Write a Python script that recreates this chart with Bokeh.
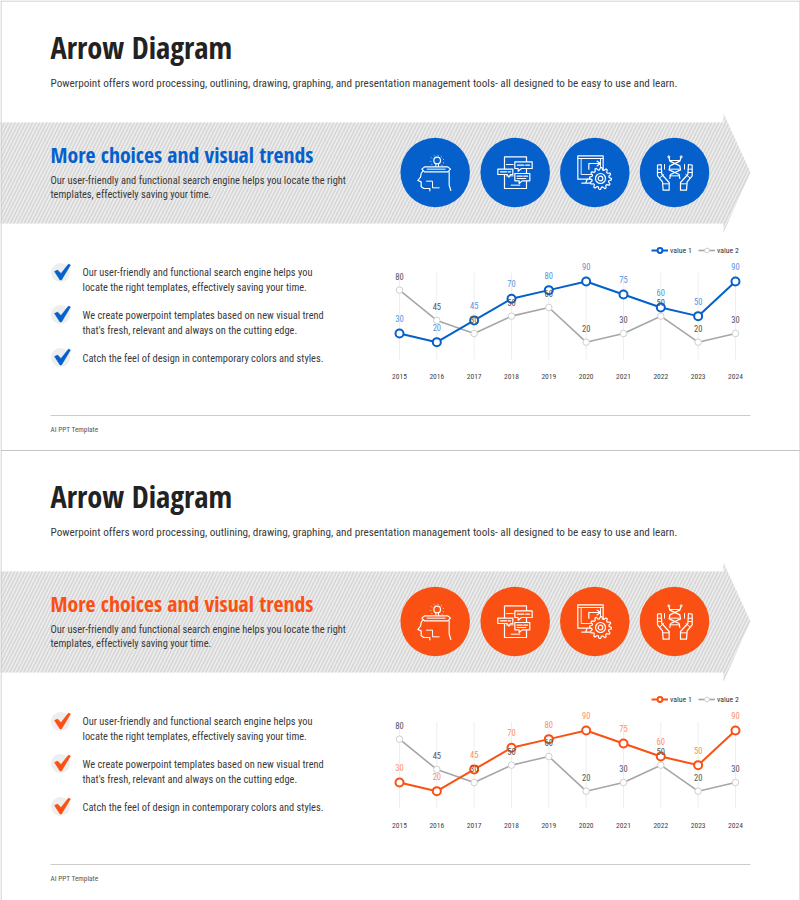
import numpy as np
from bokeh.core.properties import value
from bokeh.embed import file_html
from bokeh.resources import INLINE
from bokeh.plotting import figure
from bokeh.models import Range1d, LinearAxis, FixedTicker, Legend, LegendItem

# ---- data ----
years = [2015, 2016, 2017, 2018, 2019, 2020, 2021, 2022, 2023, 2024]
value_1 = [30, 20, 45, 70, 80, 90, 75, 60, 50, 90]
value_2 = [80, 45, 30, 50, 60, 20, 30, 50, 20, 30]
series_names = ["value 1", "value 2"]

title_text = "Arrow Diagram"
subtitle_text = "Powerpoint offers word processing, outlining, drawing, graphing, and presentation management tools- all designed to be easy to use and learn."
head_text = "More choices and visual trends"
band_lines = ["Our user-friendly and functional search engine helps you locate the right",
              "templates, effectively saving your time."]
bullet_lines = ["Our user-friendly and functional search engine helps you",
                "locate the right templates, effectively saving your time.",
                "We create powerpoint templates based on new visual trend",
                "that's fresh, relevant and always on the cutting edge.",
                "Catch the feel of design in contemporary colors and styles."]
footer_text = "AI PPT Template"

# ---- page geometry (reference pixels) ----
W, H = 800, 900
FONT = "Roboto Condensed"
HEAD_FONT = "Open Sans Condensed"
X_2015, PX_YEAR = 399.0, 37.33
Y_ZERO, PX_UNIT = 359.0, 0.867
PANEL_DY = 449

p = figure(width=W, height=H, output_backend="svg", toolbar_location=None,
           x_range=Range1d(0, W), y_range=Range1d(H, 0), min_border=0,
           x_axis_type=None, y_axis_type=None, outline_line_color=None)
p.grid.visible = False
p.extra_x_ranges["years"] = Range1d(2015 - X_2015 / PX_YEAR, 2015 + (W - X_2015) / PX_YEAR)


def T(x, y, text, size, color, style="normal", font=FONT):
    p.text([x], [y], text=[text], text_font=value(font), text_font_size=f"{size}px", text_color=color,
           text_font_style=style, text_align="left", text_baseline="middle")


def stroke(points, ox, oy, w=1.0):
    """Icon stroke, points in 1/3-pixel units from the icon box corner."""
    a = np.array(points, float)
    p.line(a[:, 0] / 3 + ox, a[:, 1] / 3 + oy, line_color="white", line_width=w, line_join="round", line_cap="round")


def shape(points, ox, oy, fill, w=1.0):
    a = np.array(points, float)
    p.patch(a[:, 0] / 3 + ox, a[:, 1] / 3 + oy, fill_color=fill, line_color="white", line_width=w, line_join="round")


def ring(cx, cy, r, ox, oy, fill=None, w=1.0):
    p.scatter([cx / 3 + ox], [cy / 3 + oy], marker="circle", size=2 * r / 3, fill_color=fill,
              fill_alpha=1 if fill else 0, line_color="white", line_width=w)


def box(x0, y0, x1, y1):
    return [(x0, y0), (x1, y0), (x1, y1), (x0, y1), (x0, y0)]


def icon_head(ox, oy, c):
    ring(110, 66, 10, ox, oy, w=1.2)
    stroke([(106, 76), (106, 84)], ox, oy); stroke([(114, 76), (114, 84)], ox, oy)
    for d in [(93, 58), (90, 68), (94, 78), (102, 52), (112, 50), (122, 54), (128, 62), (128, 72), (124, 80)]:
        stroke([d, (d[0] + .5, d[1] + .5)], ox, oy, 1.0)
    stroke([(72, 90), (62, 105), (60, 116), (52, 126), (62, 130), (62, 145), (70, 150), (88, 150), (88, 157)], ox, oy, 1.2)
    stroke([(146, 100), (146, 140), (151, 156)], ox, oy, 1.2)
    shape([(72, 85), (142, 85), (150, 92), (142, 100), (72, 100), (64, 92)], ox, oy, c, 1.2)
    stroke([(80, 92), (134, 92)], ox, oy, 1.0)
    stroke([(78, 128), (96, 128), (96, 148), (116, 148)], ox, oy, 1.0)


def icon_phone(ox, oy, c):
    stroke(box(72, 55, 138, 150), ox, oy, 1.2)
    stroke([(78, 78), (98, 78)], ox, oy); stroke([(78, 112), (98, 112)], ox, oy); stroke([(92, 140), (118, 140)], ox, oy)
    shape([(103, 70), (155, 70), (155, 90), (123, 90), (113, 98), (113, 90), (103, 90)], ox, oy, c, 1.2)
    stroke([(111, 80), (130, 80)], ox, oy, 1.4); stroke([(136, 80), (147, 80)], ox, oy, 1.4)
    shape([(52, 92), (97, 92), (97, 108), (90, 108), (85, 116), (80, 108), (52, 108)], ox, oy, c, 1.2)
    stroke([(60, 100), (78, 100)], ox, oy, 1.4); stroke([(83, 100), (90, 100)], ox, oy, 1.4)
    shape([(103, 105), (148, 105), (148, 127), (125, 127), (116, 135), (116, 127), (103, 127)], ox, oy, c, 1.2)
    stroke([(110, 113), (125, 113)], ox, oy, 1.4); stroke([(130, 113), (141, 113)], ox, oy, 1.4)
    stroke([(110, 120), (136, 120)], ox, oy, 1.2)


def icon_gear(ox, oy, c):
    stroke(box(52, 52, 128, 122), ox, oy, 1.2)
    stroke(box(62, 60, 120, 108), ox, oy, 0.9)
    stroke([(52, 60), (128, 60)], ox, oy, 1.0)
    stroke([(85, 92), (85, 75), (118, 75)], ox, oy, 1.2)
    stroke([(110, 68), (120, 75), (110, 82)], ox, oy, 1.2)
    stroke([(80, 122), (76, 132)], ox, oy, 1.2)
    stroke([(64, 134), (95, 134)], ox, oy, 1.2)
    ang = np.linspace(0, 2 * np.pi, 49)[:-1]
    rad = np.array([33, 33, 26, 26] * 12, float)
    shape(np.c_[120 + rad * np.cos(ang), 120 + rad * np.sin(ang)], ox, oy, c, 1.2)
    ring(120, 120, 15, ox, oy, w=1.2)
    ring(120, 120, 7, ox, oy, w=1.2)


def icon_dna(ox, oy, c):
    stroke([(85, 55), (88, 68), (118, 82), (120, 94), (90, 108), (88, 120)], ox, oy, 1.2)
    stroke([(122, 55), (118, 68), (88, 82), (86, 94), (116, 108), (118, 120)], ox, oy, 1.2)
    ring(85, 55, 3, ox, oy); ring(122, 55, 3, ox, oy)
    stroke([(88, 66), (118, 66)], ox, oy); stroke([(90, 92), (116, 92)], ox, oy); stroke([(88, 112), (116, 112)], ox, oy)
    stroke([(72, 78), (72, 92)], ox, oy); stroke([(132, 78), (132, 92)], ox, oy)
    for sgn in (1, -1):
        m = lambda x: x if sgn == 1 else 206 - x
        stroke([(m(51), 112), (m(51), 80), (m(62), 78), (m(64), 108), (m(86), 132), (m(86), 155), (m(68), 155), (m(66), 130), (m(51), 112)], ox, oy, 1.2)
        stroke([(m(51), 92), (m(63), 92)], ox, oy); stroke([(m(51), 102), (m(63), 102)], ox, oy)
        stroke([(m(58), 118), (m(70), 108)], ox, oy); stroke([(m(68), 136), (m(86), 136)], ox, oy)


def panel(dy, color, label_color):
    # band + arrow
    p.patch([0, 723, 723, 750, 723, 723, 0], [122 + dy, 122 + dy, 113 + dy, 172 + dy, 232 + dy, 223 + dy, 223 + dy],
            fill_color="#efefef", line_color=None, hatch_pattern="right_diagonal_line",
            hatch_color="#d8d8d8", hatch_scale=7, hatch_weight=1.8)
    # headings
    T(50, 47 + dy, title_text, 30.4, "#222222", "bold", HEAD_FONT)
    T(50, 83 + dy, subtitle_text, 11.2, "#3a3a3a")
    T(50, 153.5 + dy, head_text, 21.7, color, "bold", HEAD_FONT)
    T(50, 180 + dy, band_lines[0], 10.45, "#3a3a3a")
    T(50, 194 + dy, band_lines[1], 10.45, "#3a3a3a")
    # icons
    cxs = [434.7, 514.7, 594.3, 674]
    p.scatter(cxs, [172 + dy] * 4, marker="circle", size=69.5, fill_color=color, line_color=None)
    for ox, fn in zip([400, 480, 560, 640], [icon_head, icon_phone, icon_gear, icon_dna]):
        fn(ox, 138 + dy, color)
    # bullets
    for cy, ys, idx in [(272, [272, 286.5], [0, 1]), (314, [314.5, 329.5], [2, 3]), (357, [358], [4])]:
        yy = cy + dy
        p.scatter([60], [yy], marker="circle", size=19, fill_color="#eeeeee", line_color=None)
        p.patch([54, 57, 60.5, 68, 70, 61, 59.5],
                [yy - 1, yy - 2.5, yy + 1, yy - 8.5, yy - 7.5, yy + 7.5, yy + 7.5],
                fill_color=color, line_color=color, line_width=0.5)
        for y, i in zip(ys, idx):
            T(82, y + dy, bullet_lines[i], 10.4, "#3a3a3a")
    # footer
    p.line([50, 750], [415 + dy, 415 + dy], line_color="#cccccc", line_width=1)
    T(50, 429 + dy, footer_text, 7.3, "#555555")

    # chart
    yr = f"v{dy}"
    p.extra_y_ranges[yr] = Range1d((Y_ZERO + dy - H) / PX_UNIT, (Y_ZERO + dy) / PX_UNIT)
    kw = dict(x_range_name="years", y_range_name=yr)
    p.segment(years, [0] * 10, years, [100] * 10, line_color="#eeeeee", line_width=1, **kw)
    l2 = p.line(years, value_2, line_color="#a6a6a6", line_width=1.6, **kw)
    m2 = p.scatter(years, value_2, marker="circle", size=6.5, fill_color="white", line_color="#cfcfcf", line_width=1, **kw)
    l1 = p.line(years, value_1, line_color=color, line_width=2, **kw)
    m1 = p.scatter(years, value_1, marker="circle", size=8, fill_color="white", line_color=color, line_width=2, **kw)
    p.text(years, value_2, text=[str(v) for v in value_2], text_font=value(FONT), text_font_size="8.5px",
           text_color="#555555", text_align="center", text_baseline="middle", y_offset=-14, **kw)
    p.text(years, value_1, text=[str(v) for v in value_1], text_font=value(FONT), text_font_size="8.5px",
           text_color=label_color, text_align="center", text_baseline="middle", y_offset=-15, **kw)
    ax = LinearAxis(x_range_name="years", y_range_name=yr, fixed_location=0, ticker=FixedTicker(ticks=years),
                    axis_line_color=None, major_tick_line_color=None, minor_tick_line_color=None,
                    major_label_text_font=FONT, major_label_text_font_size="7.5px",
                    major_label_text_color="#444444", major_label_standoff=8)
    p.add_layout(ax, "below")
    leg = Legend(items=[LegendItem(label=series_names[0], renderers=[l1, m1]),
                        LegendItem(label=series_names[1], renderers=[l2, m2])],
                 orientation="horizontal", location=(651, H - 256 - dy), padding=0, margin=0,
                 spacing=6, glyph_width=17, glyph_height=12, label_standoff=2, label_height=12,
                 label_text_font=FONT, label_text_font_size="7.8px", label_text_color="#333333",
                 background_fill_alpha=0, border_line_color=None)
    p.add_layout(leg, "center")


panel(0, "#0560cc", "#5a93dc")
panel(PANEL_DY, "#fb5014", "#fc8f68")

# page frame
for xs, ys in [([0.5, 0.5], [0, H]), ([799.5, 799.5], [0, H]), ([0, W], [0.5, 0.5]), ([0, W], [450, 450])]:
    p.line(xs, ys, line_color="#c4c4c4", line_width=1)

open("out.html", "w").write(file_html(p, INLINE))
